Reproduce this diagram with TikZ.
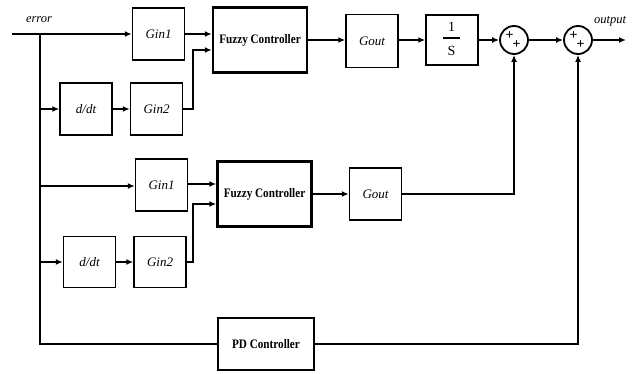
\documentclass[tikz,border=0pt]{standalone}
\usepackage{fontspec}
\setmainfont{Liberation Serif}
\newfontfamily\condbf[FakeStretch=0.86]{Liberation Serif}
\usetikzlibrary{arrows.meta,calc}
\begin{document}
\begin{tikzpicture}[x=1pt,y=-1pt,
  blk/.style={draw,line width=1.5pt,inner sep=0pt,minimum width=52pt,minimum height=52pt,font=\fontsize{13}{15}\selectfont\itshape},
  fz/.style={draw,line width=2.4pt,inner sep=0pt,minimum width=94pt,minimum height=64pt,font=\fontsize{13}{15}\condbf\bfseries},
  sumc/.style={draw,circle,line width=1.8pt,inner sep=0pt,minimum size=28pt},
  pls/.style={inner sep=0pt,font=\fontsize{14}{14}\selectfont\bfseries},
  num/.style={inner sep=0pt,font=\fontsize{14}{14}\selectfont},
  con/.style={line width=1.6pt},
  arr/.style={con,-{Latex[length=7pt,width=6pt]}},
  lbl/.style={font=\fontsize{12.5}{14}\selectfont\itshape,inner sep=0pt}]
\useasboundingbox (0,0) rectangle (634,374);
% top row
\coordinate (in) at (12,34);
\coordinate (tr) at (40,34);
\node[blk] (g1a) at (158.5,34) {Gin1};
\node[fz,minimum height=65pt] (fza) at (260,40) {Fuzzy Controller};
\node[blk,minimum height=53pt] (goa) at (372,41) {Gout};
\node[blk,minimum height=50pt] (int) at (452,40) {};
\node[num] (one) at (451.5,27) {1};
\node[num] (ess) at (451.5,51) {S};
\draw[line width=1.2pt] (443,38) -- (460,38);
\node[sumc] (s1) at (514,40) {};
\node[sumc] (s2) at (578,40) {};
\node[pls] (p1a) at ($(s1)+(-4.5,-4)$) {+};
\node[pls] (p1b) at ($(s1)+(2.5,5)$) {+};
\node[pls] (p2a) at ($(s2)+(-4.5,-4)$) {+};
\node[pls] (p2b) at ($(s2)+(2.5,5)$) {+};
\node[blk] (da) at (86,109) {d/dt};
\node[blk] (g2a) at (156.5,109) {Gin2};
\coordinate (out) at (626,40);
\node[lbl] (el) at (39,20) {error};
\node[lbl] (ol) at (610,21) {output};
% middle row
\node[blk] (g1b) at (161.5,185) {Gin1};
\node[fz,minimum height=65pt] (fzb) at (264.5,194) {Fuzzy Controller};
\node[blk] (gob) at (375.5,194) {Gout};
\node[blk,minimum height=51pt] (db) at (89.5,262) {d/dt};
\node[blk,minimum height=51pt] (g2b) at (160,262) {Gin2};
% PD
\node[fz,minimum width=96pt,minimum height=52pt] (pd) at (266,344) {PD Controller};
% connectors top
\draw[arr] (in) -- (g1a.west);
\draw[con] (tr) -- (40,344) -- (pd.west);
\draw[arr] (40,109) -- (da.west);
\draw[arr] (da.east) -- (g2a.west);
\draw[arr] (g1a.east) -- (fza.west |- g1a.east);
\draw[arr] (g2a.east) -- (193,109) |- ($(fza.west)+(0,10)$);
\draw[arr] (fza.east) -- (goa.west |- fza.east);
\draw[arr] (goa.east |- int.west) -- (int.west);
\draw[arr] (int.east) -- (s1.west);
\draw[arr] (s1.east) -- (s2.west);
\draw[arr] (s2.east) -- (out);
% middle connectors
\draw[arr] (40,186) -- (g1b.west |- 0,186);
\draw[arr] (40,262) -- (db.west);
\draw[arr] (db.east) -- (g2b.west);
\draw[arr] (g1b.east |- 0,184) -- (fzb.west |- 0,184);
\draw[arr] (g2b.east) -- (193,262) |- (fzb.west |- 0,204);
\draw[arr] (fzb.east) -- (gob.west |- fzb.east);
\draw[arr] (gob.east) -- (514,194) -- (s1.south);
\draw[arr] (pd.east) -- (578,344) -- (s2.south);
\end{tikzpicture}
\end{document}
